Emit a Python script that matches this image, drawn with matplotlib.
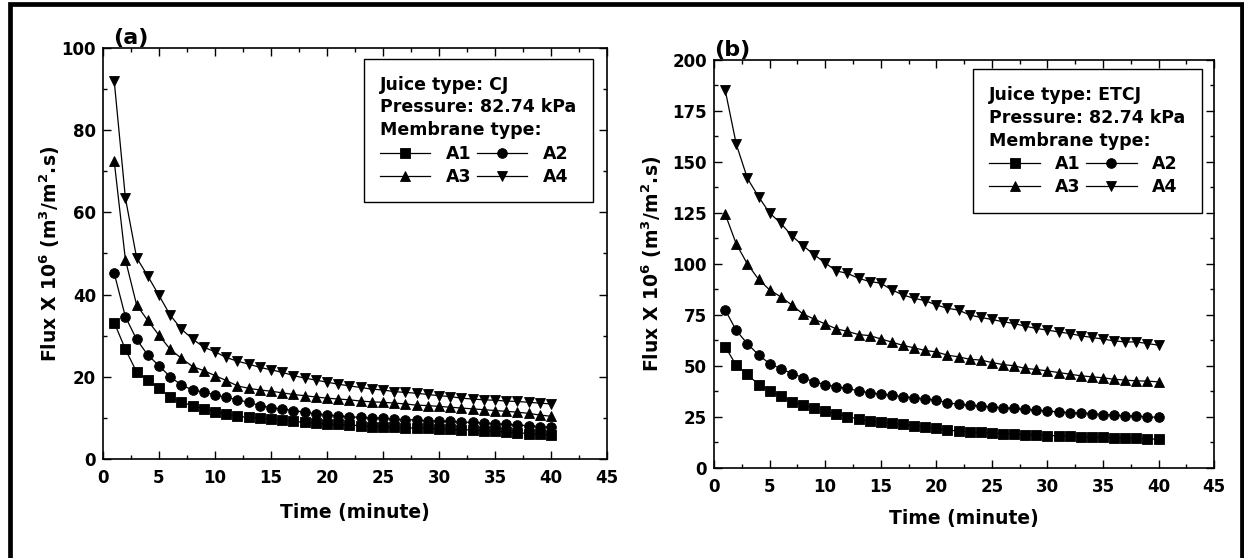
import numpy as np
import matplotlib
matplotlib.use("Agg")
import matplotlib.pyplot as plt
from matplotlib.patches import Rectangle

plt.rcParams['font.family'] = ['DejaVu Sans']
plt.rcParams['font.weight'] = 'bold'
plt.rcParams['axes.labelweight'] = 'bold'
plt.rcParams['mathtext.default'] = 'regular'

# time in minutes, one reading every minute
time = np.arange(1, 41)

# (a) juice type CJ, flux x 10^6 (m3/m2.s)
cj_a1 = [33.2, 26.7, 21.2, 19.2, 17.2, 15.0, 13.8, 13.0, 12.2, 11.5,
         11.0, 10.4, 10.1, 10.0, 9.7, 9.5, 9.2, 8.9, 8.7, 8.5,
         8.4, 8.3, 8.1, 7.9, 7.9, 7.7, 7.6, 7.5, 7.5, 7.3,
         7.2, 7.1, 7.1, 6.9, 6.7, 6.6, 6.4, 6.2, 6.0, 5.8]
cj_a2 = [45.2, 34.6, 29.1, 25.3, 22.7, 20.0, 18.0, 16.8, 16.3, 15.6,
         15.0, 14.4, 13.8, 13.0, 12.5, 12.2, 11.8, 11.4, 11.0, 10.7,
         10.5, 10.3, 10.1, 10.0, 9.9, 9.7, 9.6, 9.5, 9.3, 9.2,
         9.2, 9.0, 8.9, 8.8, 8.6, 8.4, 8.3, 8.1, 7.9, 7.7]
cj_a3 = [72.5, 48.5, 37.5, 33.7, 30.1, 26.7, 24.5, 22.5, 21.5, 20.3,
         19.1, 17.8, 17.2, 16.8, 16.5, 16.1, 15.7, 15.4, 15.1, 14.8,
         14.6, 14.4, 14.1, 13.9, 13.8, 13.6, 13.4, 13.1, 13.0, 12.8,
         12.6, 12.4, 12.2, 12.0, 11.8, 11.6, 11.4, 11.1, 10.7, 10.4]
cj_a4 = [92.0, 63.5, 49.0, 44.5, 39.8, 35.0, 31.6, 29.2, 27.2, 26.1,
         24.7, 23.8, 23.1, 22.3, 21.7, 21.1, 20.3, 19.7, 19.2, 18.7,
         18.2, 17.8, 17.4, 17.0, 16.8, 16.4, 16.2, 16.0, 15.7, 15.4,
         15.2, 14.8, 14.6, 14.4, 14.3, 14.1, 14.0, 13.8, 13.6, 13.4]

# (b) juice type ETCJ
etcj_a1 = [59.5, 50.3, 45.9, 40.9, 37.8, 35.2, 32.5, 30.8, 29.5, 27.9,
           26.5, 25.2, 24.0, 23.0, 22.4, 21.9, 21.4, 20.8, 20.1, 19.4,
           18.5, 18.2, 17.7, 17.4, 17.2, 16.9, 16.6, 16.4, 16.1, 15.9,
           15.8, 15.6, 15.3, 15.1, 15.0, 14.8, 14.6, 14.5, 14.3, 14.1]
etcj_a2 = [77.5, 67.4, 60.9, 55.5, 51.1, 48.7, 46.3, 44.3, 42.2, 40.9,
           39.8, 39.0, 37.8, 36.9, 36.2, 35.6, 35.0, 34.5, 33.9, 33.3,
           31.9, 31.3, 30.8, 30.3, 30.0, 29.5, 29.2, 28.7, 28.4, 27.9,
           27.5, 27.2, 27.0, 26.7, 26.2, 25.9, 25.6, 25.4, 25.1, 24.8]
etcj_a3 = [124.5, 109.8, 100.0, 92.5, 87.3, 83.9, 79.9, 75.5, 73.0, 70.6,
           68.2, 67.0, 65.4, 64.9, 63.3, 61.7, 60.1, 58.9, 57.6, 56.9,
           55.3, 54.5, 53.3, 52.9, 51.7, 50.7, 50.1, 48.8, 48.3, 47.6,
           46.8, 46.0, 45.2, 44.7, 44.2, 43.5, 43.1, 42.7, 42.6, 42.2]
etcj_a4 = [185.3, 158.7, 142.0, 133.0, 125.0, 120.0, 113.8, 109.0, 104.6, 100.5,
           96.6, 95.4, 93.0, 91.4, 90.6, 87.3, 84.8, 83.2, 82.0, 79.9,
           78.3, 77.4, 75.0, 73.8, 72.8, 71.7, 70.8, 69.5, 68.4, 67.6,
           66.7, 65.9, 64.8, 64.0, 63.2, 62.3, 61.8, 61.8, 61.0, 60.2]

membranes = ['A1', 'A2', 'A3', 'A4']
markers = ['s', 'o', '^', 'v']


def drawPanel(ax, series, juice, letter, ymax, ystep, letter_x, xpad, ypad, leg_anchor):
    lines = []
    for vals, name, m in zip(series, membranes, markers):
        ln, = ax.plot(time, vals, color='black', lw=0.9, marker=m, markersize=7,
                      markeredgewidth=0.6, label=name)
        lines.append(ln)

    ax.set_xlim(0, 45)
    ax.set_ylim(0, ymax)
    ax.set_xticks(np.arange(0, 46, 5))
    ax.set_xticks(np.arange(0, 46, 2.5), minor=True)
    ax.set_yticks(np.arange(0, ymax + 1, ystep))
    ax.set_yticks(np.arange(0, ymax + 1, ystep / 2), minor=True)
    ax.tick_params(which='both', direction='in', top=True, right=True,
                   labelsize=12, width=1.0)
    ax.tick_params(which='major', length=6)
    ax.tick_params(axis='x', which='major', pad=7)
    ax.tick_params(axis='y', which='major', pad=5)
    ax.tick_params(which='minor', length=3)
    for lbl in ax.get_xticklabels() + ax.get_yticklabels():
        lbl.set_fontweight('bold')
    for s in ax.spines.values():
        s.set_linewidth(1.2)

    ax.set_xlabel('Time (minute)', fontsize=13.5, labelpad=xpad)
    ax.set_ylabel('Flux X 10$^6$ (m$^3$/m$^2$.s)', fontsize=13.5, labelpad=ypad)
    ax.text(letter_x, 1.0, letter, transform=ax.transAxes, fontsize=16,
            fontweight='bold', ha='left', va='bottom')

    # rows: A1 A2 / A3 A4 (legend fills column by column)
    order = [0, 2, 1, 3]
    leg = ax.legend([lines[i] for i in order], [membranes[i] for i in order],
                    ncol=2, loc='upper right', bbox_to_anchor=leg_anchor,
                    borderaxespad=0,
                    title='Juice type: ' + juice + '\nPressure: 82.74 kPa\nMembrane type:',
                    title_fontproperties={'weight': 'bold', 'size': 12.5},
                    alignment='left', prop={'weight': 'bold', 'size': 12.5},
                    fancybox=False, edgecolor='black', framealpha=1,
                    handlelength=2.9, handletextpad=0.9, columnspacing=0.3,
                    labelspacing=0.3, borderpad=0.95, numpoints=1)
    leg.get_frame().set_linewidth(1.0)
    leg.get_title().set_linespacing(1.35)


fig = plt.figure(figsize=(12.44, 5.58), dpi=100)
ax1 = fig.add_axes([0.0828, 0.1774, 0.4051, 0.7366])
ax2 = fig.add_axes([0.574, 0.1613, 0.402, 0.7312])

drawPanel(ax1, [cj_a1, cj_a2, cj_a3, cj_a4], 'CJ', '(a)', 100, 20, 0.02,
          11.5, 0, (0.972, 0.973))
drawPanel(ax2, [etcj_a1, etcj_a2, etcj_a3, etcj_a4], 'ETCJ', '(b)', 200, 25, 0.0,
          9.5, 6, (0.976, 0.977))

# black frame round the page (bottom edge is cut off)
fig.add_artist(Rectangle((0.0084, -0.05), 0.9896, 1.0428, transform=fig.transFigure,
                         fill=False, edgecolor='black', lw=3.4))

fig.savefig('out.png', dpi=100)
